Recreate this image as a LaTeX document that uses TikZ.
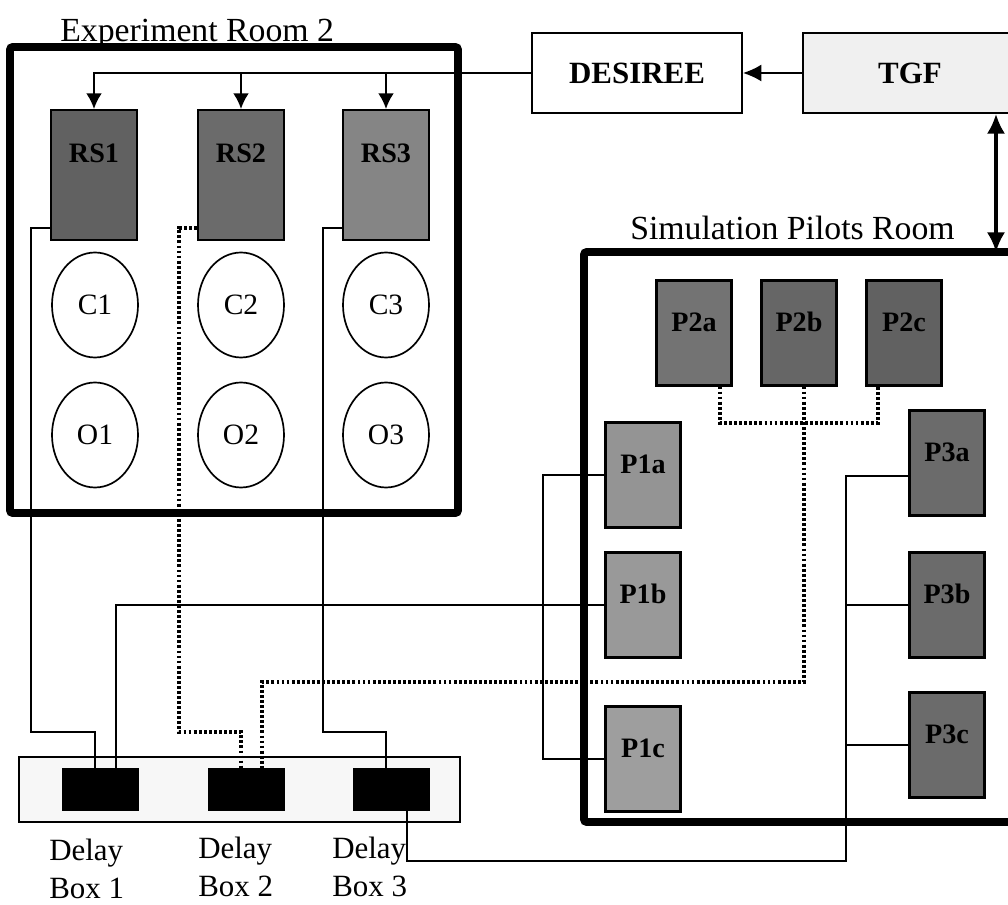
\documentclass[tikz,border=0pt]{standalone}
\usepackage{fontspec}
\setmainfont{Liberation Serif}
\usetikzlibrary{calc,arrows.meta,shapes.geometric}

\newlength\pixel
\setlength\pixel{0.025cm}

\tikzset{
    room/.style={line width=5.6pt, rounded corners=2pt},
    roomlabel/.style={font=\fontsize{24}{28}\selectfont, inner sep=0pt},
    station/.style={draw, line width=1.5pt, minimum width=86\pixel, minimum height=130\pixel,
        text depth=44\pixel, font=\bfseries\fontsize{20}{24}\selectfont},
    pilot/.style={draw, line width=1.5pt, minimum width=75\pixel, minimum height=105\pixel,
        text depth=22\pixel, font=\bfseries\fontsize{20}{24}\selectfont},
    seat/.style={draw, ellipse, line width=1.2pt, minimum width=86\pixel, minimum height=105\pixel,
        font=\fontsize{21}{24}\selectfont},
    server/.style={draw, line width=1.5pt, minimum width=210\pixel, minimum height=80\pixel,
        font=\bfseries\fontsize{22}{26}\selectfont},
    delaybox/.style={fill=black, minimum width=77\pixel, minimum height=43\pixel, inner sep=0pt},
    delaylabel/.style={align=left, inner sep=0pt, font=\fontsize{22}{27}\selectfont},
    wire/.style={line width=1.1pt},
    dots/.style={line width=2.3pt, dash pattern=on 2pt off 1.6pt},
    feed/.style={line width=1.1pt, -{Latex[length=11pt, width=11pt]}},
}

\begin{document}
\begin{tikzpicture}[x=\pixel, y=-\pixel]
    \clip (0,0) rectangle (1008,905);

    % rooms
    \draw [room] (10,47) rectangle (458,513);
    \draw [room] (584,252) rectangle (1050,822);
    \node[roomlabel, anchor=base west] (explabel) at (60,42) {Experiment Room 2};
    \node[roomlabel, anchor=base west] (simlabel) at (630,240) {Simulation Pilots Room};

    % servers
    \node[server] (desiree) at (637,73) {DESIREE};
    \node[server, fill=black!6, minimum width=214\pixel] (tgf) at (910,73) {TGF};
    \coordinate (link) at (996,0);
    \coordinate (simtop) at (996,252);

    % experiment room
    \node[station, fill=black!62] (RS1) at (94,175) {RS1};
    \node[station, fill=black!58] (RS2) at (241,175) {RS2};
    \node[station, fill=black!48] (RS3) at (386,175) {RS3};
    \node[seat] (C1) at (95,305) {C1};
    \node[seat] (C2) at (241,305) {C2};
    \node[seat] (C3) at (386,305) {C3};
    \node[seat] (O1) at (95,435) {O1};
    \node[seat] (O2) at (241,435) {O2};
    \node[seat] (O3) at (386,435) {O3};

    % simulation pilots room
    \node[pilot, fill=black!55] (P2a) at (694,333) {P2a};
    \node[pilot, fill=black!60] (P2b) at (799,333) {P2b};
    \node[pilot, fill=black!62] (P2c) at (904,333) {P2c};
    \node[pilot, fill=black!42] (P1a) at (643,475) {P1a};
    \node[pilot, fill=black!40] (P1b) at (643,605) {P1b};
    \node[pilot, fill=black!38] (P1c) at (643,759) {P1c};
    \node[pilot, fill=black!58] (P3a) at (947,463) {P3a};
    \node[pilot, fill=black!58] (P3b) at (947,605) {P3b};
    \node[pilot, fill=black!58] (P3c) at (947,745) {P3c};

    % delay boxes
    \node[draw, line width=1.5pt, fill=black!3, minimum width=441\pixel, minimum height=65\pixel]
        (delayrow) at (239.5,789.5) {};
    \node[delaybox] (D1) at (100,789.5) {};
    \node[delaybox] (D2) at (246,789.5) {};
    \node[delaybox] (D3) at (391,789.5) {};
    \node[delaylabel, anchor=north west] (L1) at (49,839) {Delay\\Box 1};
    \node[delaylabel, anchor=north west] (L2) at (198,837) {Delay\\Box 2};
    \node[delaylabel, anchor=north west] (L3) at (332,837) {Delay\\Box 3};

    % bends
    \coordinate (r1) at (31,732);
    \coordinate (r2) at (179,732);
    \coordinate (r3) at (323,732);
    \coordinate (p1bus) at (543,600);
    \coordinate (p2bus) at (804,423);
    \coordinate (p2turn) at (804,682);
    \coordinate (p3turn) at (846,861);

    % feeds
    \draw [feed, -{Latex[length=13pt, width=12pt]}] (tgf.west) -- (desiree.east);
    \draw [line width=2.2pt, {Latex[length=14pt, width=13pt]}-{Latex[length=14pt, width=13pt]}]
        (tgf.south -| link) -- (simtop);
    \draw [feed] (desiree.west) -| (RS1.north);
    \draw [feed] (desiree.west -| RS2.north) -- (RS2.north);
    \draw [feed] (desiree.west -| RS3.north) -- (RS3.north);

    % experiment room to delay boxes
    \draw [wire] ($(RS1.south west)+(0,-13)$) -| (r1) -| ($(D1.north)+(-5,0)$);
    \draw [dots] ($(RS2.south west)+(0,-13)$) -| (r2) -| ($(D2.north)+(-5,0)$);
    \draw [wire] ($(RS3.south west)+(0,-13)$) -| (r3) -| ($(D3.north)+(-5,0)$);

    % pilots to delay boxes
    \draw [wire] (P1a.west) -| (p1bus) |- (P1c.west);
    \draw [wire] (P1b.west) -| ($(D1.north)+(16,0)$);
    \draw [dots] ($(P2a.south)+(26,0)$) |- (p2bus) -| ($(P2c.south)+(-26,0)$);
    \draw [dots] ($(P2b.south)+(5,0)$) -- (p2turn) -| ($(D2.north)+(16,0)$);
    \draw [wire] ($(P3a.west)+(0,13)$) -| (p3turn) -| ($(D3.south)+(16,0)$);
    \draw [wire] (P3b.west) -- (P3b.west -| p3turn);
    \draw [wire] (P3c.west) -- (P3c.west -| p3turn);
\end{tikzpicture}
\end{document}
